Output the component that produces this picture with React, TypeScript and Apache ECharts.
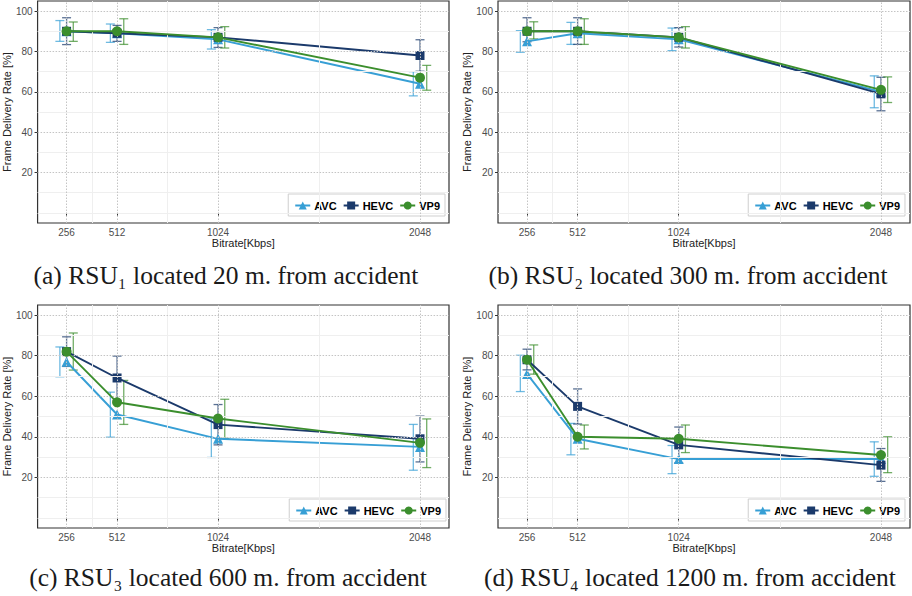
import React, { useEffect, useRef } from 'react';
import * as echarts from 'echarts';

const bitrates = [256, 512, 1024, 2048];
const xTicks = [256, 512, 1024, 2048];
const xMinor = [384, 768, 1536];
const yTicks = [20, 40, 60, 80, 100];
const yMinor = [0, 10, 30, 50, 70, 90];
const codecs = ['AVC', 'HEVC', 'VP9'];

// (a) RSU1
const rsu1AVC = [90, 89, 86, 64];
const rsu1AVCLow = [85, 84.5, 81.2, 58];
const rsu1AVCHigh = [95.3, 93.6, 90.8, 70];
const rsu1HEVC = [90, 89, 87, 78];
const rsu1HEVCLow = [83.4, 85, 82, 70.2];
const rsu1HEVCHigh = [96.7, 92.9, 91.8, 85.8];
const rsu1VP9 = [90, 90, 87, 67];
const rsu1VP9Low = [85, 83.5, 81.7, 60.8];
const rsu1VP9High = [94.6, 96.2, 92.3, 73.1];

// (b) RSU2
const rsu2AVC = [85, 89, 86, 60];
const rsu2AVCLow = [79.6, 83.5, 80.4, 52.1];
const rsu2AVCHigh = [90.3, 94.4, 91.6, 67.9];
const rsu2HEVC = [90, 90, 87, 59];
const rsu2HEVCLow = [84.8, 83.5, 82.2, 50.6];
const rsu2HEVCHigh = [96.7, 96.7, 91.8, 67.2];
const rsu2VP9 = [90, 90, 87, 61];
const rsu2VP9Low = [86.2, 83.5, 81.7, 54.7];
const rsu2VP9High = [94.7, 96.2, 92.3, 67.4];

// (c) RSU3
const rsu3AVC = [77, 51, 39, 35];
const rsu3AVCLow = [69.6, 39.8, 29.8, 23.5];
const rsu3AVCHigh = [84.3, 62, 48.8, 46.1];
const rsu3HEVC = [82, 69, 46, 39];
const rsu3HEVCLow = [74.7, 58, 36, 27.6];
const rsu3HEVCHigh = [89.3, 79.8, 55.9, 50.2];
const rsu3VP9 = [82, 57, 49, 37];
const rsu3VP9Low = [72.9, 46.1, 39.2, 24.8];
const rsu3VP9High = [91.2, 67.8, 58.5, 48.8];

// (d) RSU4
const rsu4AVC = [71, 39, 29, 29];
const rsu4AVCLow = [62.3, 31.1, 21.8, 20.5];
const rsu4AVCHigh = [80.2, 46.6, 35.7, 37.5];
const rsu4HEVC = [78, 55, 36, 26];
const rsu4HEVCLow = [73, 46.3, 27.1, 18];
const rsu4HEVCHigh = [83.2, 63.6, 44.8, 34.2];
const rsu4VP9 = [78, 40, 39, 31];
const rsu4VP9Low = [70.9, 34, 32.2, 22.3];
const rsu4VP9High = [85.3, 45.8, 45.8, 40];

const captions = [
  '(a) RSU\u2081 located 20 m. from accident',
  '(b) RSU\u2082 located 300 m. from accident',
  '(c) RSU\u2083 located 600 m. from accident',
  '(d) RSU\u2084 located 1200 m. from accident',
];

const panelData = [
  [[rsu1AVC, rsu1AVCLow, rsu1AVCHigh], [rsu1HEVC, rsu1HEVCLow, rsu1HEVCHigh], [rsu1VP9, rsu1VP9Low, rsu1VP9High]],
  [[rsu2AVC, rsu2AVCLow, rsu2AVCHigh], [rsu2HEVC, rsu2HEVCLow, rsu2HEVCHigh], [rsu2VP9, rsu2VP9Low, rsu2VP9High]],
  [[rsu3AVC, rsu3AVCLow, rsu3AVCHigh], [rsu3HEVC, rsu3HEVCLow, rsu3HEVCHigh], [rsu3VP9, rsu3VP9Low, rsu3VP9High]],
  [[rsu4AVC, rsu4AVCLow, rsu4AVCHigh], [rsu4HEVC, rsu4HEVCLow, rsu4HEVCHigh], [rsu4VP9, rsu4VP9Low, rsu4VP9High]],
];

// layout (pixels)
const layout = [
  { grid: { left: 37, top: 1, width: 412, height: 222 }, legend: { right: 467, top: 194 }, cap: { x: 226, y: 275 } },
  { grid: { left: 498, top: 1, width: 412, height: 222 }, legend: { right: 7, top: 194 }, cap: { x: 688, y: 275 } },
  { grid: { left: 36, top: 305, width: 413, height: 223 }, legend: { right: 466, top: 499 }, cap: { x: 228, y: 577 } },
  { grid: { left: 498, top: 305, width: 412, height: 223 }, legend: { right: 7, top: 499 }, cap: { x: 690, y: 577 } },
];

const colors = ['#379fd5', '#1b3a6b', '#3b8e2d'];
const symbols = ['triangle', 'rect', 'circle'];
const symbolSizes = [10, 9, 10];
const dodge = [-6.7, 0, 6.7];
const sans = 'Liberation Sans, Arial, sans-serif';

function buildOption() {
  const grids: any[] = [];
  const xAxes: any[] = [];
  const yAxes: any[] = [];
  const series: any[] = [];
  const legends: any[] = [];
  const graphics: any[] = [];

  layout.forEach((L, p) => {
    grids.push({ ...L.grid, show: true, borderColor: '#333', borderWidth: 1.2, backgroundColor: '#fff', containLabel: false });
    xAxes.push({
      type: 'value', gridIndex: p, min: 109, max: 2195,
      name: 'Bitrate[Kbps]', nameLocation: 'middle', nameGap: 13,
      nameTextStyle: { fontFamily: sans, fontSize: 11, color: '#222' },
      axisLine: { show: false },
      axisTick: { show: true, length: 3, customValues: xTicks, lineStyle: { color: '#333' } },
      axisLabel: {
        customValues: xTicks, fontFamily: sans, fontSize: 10, color: '#4d4d4d', margin: 4,
        formatter: (v: number) => String(v),
      },
      splitLine: { show: false },
    });
    yAxes.push({
      type: 'value', gridIndex: p, min: -5, max: 105,
      name: 'Frame Delivery Rate [%]', nameLocation: 'middle', nameGap: 21,
      nameTextStyle: { fontFamily: sans, fontSize: 11, color: '#222' },
      axisLine: { show: false },
      axisTick: { show: true, length: 3, customValues: yTicks, lineStyle: { color: '#333' } },
      axisLabel: {
        customValues: yTicks, fontFamily: sans, fontSize: 10, color: '#4d4d4d', margin: 5,
        formatter: (v: number) => String(v),
      },
      splitLine: { show: false },
    });
    const major = { color: '#c4c4c4', width: 1, type: [1.5, 1.5] };
    const minor = { color: '#efefef', width: 1, type: 'solid' };
    series.push({
      type: 'line', name: '_grid' + p, xAxisIndex: p, yAxisIndex: p, data: [], z: 1, silent: true,
      markLine: {
        silent: true, symbol: 'none', animation: false, label: { show: false },
        emphasis: { disabled: true },
        data: [
          ...xMinor.map((v) => ({ xAxis: v, lineStyle: minor })),
          ...yMinor.map((v) => ({ yAxis: v, lineStyle: minor })),
          ...xTicks.map((v) => ({ xAxis: v, lineStyle: major })),
          ...yTicks.map((v) => ({ yAxis: v, lineStyle: major })),
        ],
      },
    });
    codecs.forEach((c, k) => {
      const [mean, lo, hi] = panelData[p][k];
      const off = dodge[k];
      const col = colors[k];
      series.push({
        type: 'custom', name: c + '_err' + p, xAxisIndex: p, yAxisIndex: p, z: 2, silent: true,
        data: bitrates.map((b, i) => [b, lo[i], hi[i]]),
        encode: { x: 0, y: [1, 2] },
        renderItem: (params: any, api: any) => {
          const x = api.value(0);
          const pl = api.coord([x, api.value(1)]);
          const ph = api.coord([x, api.value(2)]);
          const cx = pl[0] + off;
          const st = { stroke: col, lineWidth: 1.3, opacity: 0.72 };
          return {
            type: 'group',
            children: [
              { type: 'line', shape: { x1: cx, y1: pl[1], x2: cx, y2: ph[1] }, style: st },
              { type: 'line', shape: { x1: cx - 4.5, y1: ph[1], x2: cx + 4.5, y2: ph[1] }, style: st },
              { type: 'line', shape: { x1: cx - 4.5, y1: pl[1], x2: cx + 4.5, y2: pl[1] }, style: st },
            ],
          };
        },
      });
    });
    codecs.forEach((c, k) => {
      const [mean] = panelData[p][k];
      series.push({
        type: 'line', name: c, xAxisIndex: p, yAxisIndex: p, z: 3 + k,
        data: bitrates.map((b, i) => [b, mean[i]]),
        symbol: symbols[k], symbolSize: symbolSizes[k], showSymbol: true,
        lineStyle: { color: colors[k], width: 1.9 },
        itemStyle: { color: colors[k] },
        emphasis: { disabled: true },
      });
    });
    legends.push({
      data: codecs, right: L.legend.right, top: L.legend.top, orient: 'horizontal',
      backgroundColor: '#fff', borderColor: '#cfcfcf', borderWidth: 1, padding: [6, 5, 5, 6],
      itemGap: 6, itemWidth: 15, itemHeight: 10, selectedMode: false,
      textStyle: { fontFamily: sans, fontSize: 11, fontWeight: 'bold', color: '#000', padding: [0, 0, 0, -1] },
    });
    graphics.push({
      type: 'text', x: L.cap.x, y: L.cap.y,
      style: {
        text: captions[p], fontFamily: 'Liberation Serif, Times New Roman, serif', fontSize: 25.5,
        fill: '#1a1a1a', textAlign: 'center', textVerticalAlign: 'middle',
      },
    });
  });

  return {
    animation: false,
    backgroundColor: '#fff',
    grid: grids, xAxis: xAxes, yAxis: yAxes, series, legend: legends,
    graphic: graphics,
  };
}

export default function App() {
  const ref = useRef<HTMLDivElement>(null);
  useEffect(() => {
    if (!ref.current) return;
    const chart = echarts.init(ref.current, undefined, { renderer: 'svg' });
    chart.setOption(buildOption() as any);
    return () => chart.dispose();
  }, []);
  return <div ref={ref} style={{ position: 'absolute', left: 0, top: 0, width: 912, height: 596 }} />;
}
